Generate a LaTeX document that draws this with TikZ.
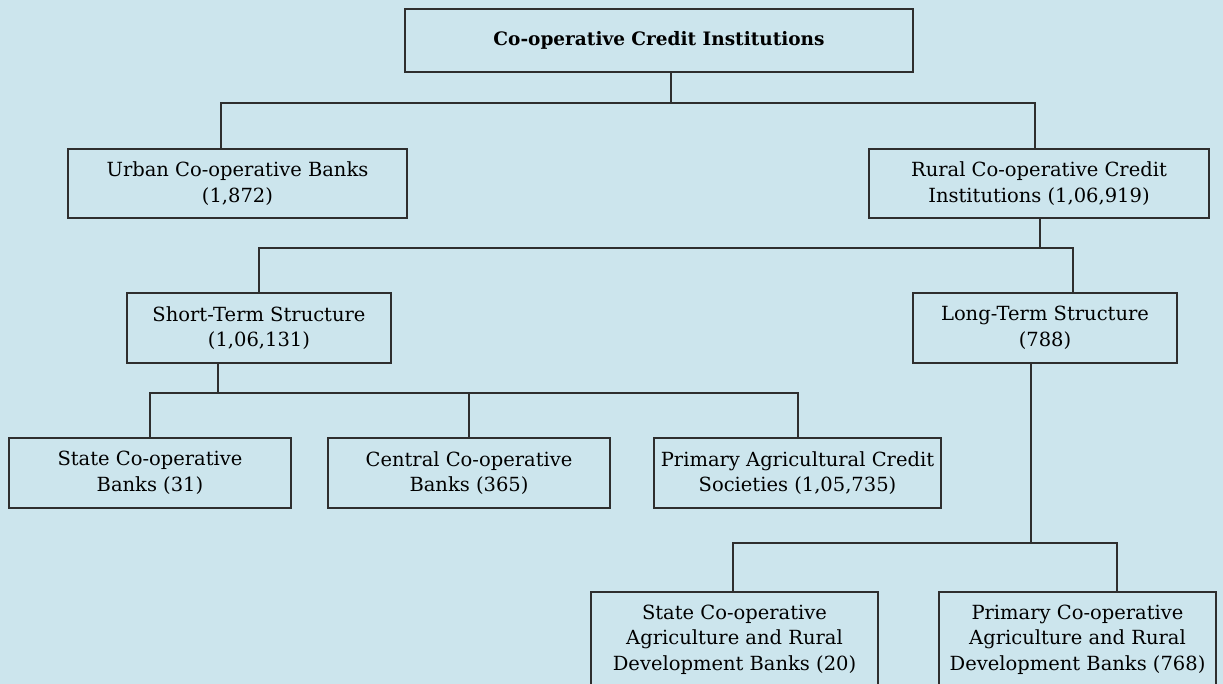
\documentclass[tikz,border=0pt]{standalone}
\usepackage{fontspec}
\setmainfont{DejaVu Serif}
\definecolor{bg}{HTML}{CCE5ED}
\definecolor{ln}{HTML}{2E2E2E}
\begin{document}
\begin{tikzpicture}[x=1pt,y=-1pt,
  box/.style={draw=ln, line width=1.4pt, rectangle, inner sep=0pt, align=center,
    font=\fontsize{19.5}{25.5}\selectfont, text=black},
  conn/.style={draw=ln, line width=1.3pt}]
\useasboundingbox[fill=bg] (0,0) rectangle (1223,684);

\node[box, minimum width=508pt, minimum height=63pt, font=\fontsize{18.5}{24}\selectfont\bfseries] (top) at (659,40.5) {Co-operative Credit Institutions};

\node[box, minimum width=339pt, minimum height=69pt] (urban) at (237.5,183.5) {Urban Co-operative Banks\\(1,872)};
\node[box, minimum width=340pt, minimum height=69pt] (rural) at (1039,183.5) {Rural Co-operative Credit\\Institutions (1,06,919)};

\node[box, minimum width=264pt, minimum height=70pt] (short) at (259,328) {Short-Term Structure\\(1,06,131)};
\node[box, minimum width=264pt, minimum height=70pt] (long) at (1045,328) {Long-Term Structure\\(788)};

\node[box, minimum width=282pt, minimum height=70pt] (state) at (150,473) {State Co-operative\\Banks (31)};
\node[box, minimum width=282pt, minimum height=70pt] (central) at (469,473) {Central Co-operative\\Banks (365)};
\node[box, minimum width=287pt, minimum height=70pt] (pacs) at (797.5,473) {Primary Agricultural Credit\\Societies (1,05,735)};

\node[box, minimum width=287pt, minimum height=95pt] (scard) at (734.5,639.5) {State Co-operative\\Agriculture and Rural\\Development Banks (20)};
\node[box, minimum width=277pt, minimum height=95pt] (pcard) at (1077.5,639.5) {Primary Co-operative\\Agriculture and Rural\\Development Banks (768)};

% junction coordinates
\coordinate (j0) at (671,103);
\coordinate (b1l) at (221,103);
\coordinate (b1r) at (1035,103);
\coordinate (j1) at (1040,248);
\coordinate (b2l) at (259,248);
\coordinate (b2r) at (1073,248);
\coordinate (j2) at (218,393);
\coordinate (b3l) at (150,393);
\coordinate (b3m) at (469,393);
\coordinate (b3r) at (798,393);
\coordinate (j3) at (1031,543);
\coordinate (b4l) at (733,543);
\coordinate (b4r) at (1117,543);

\draw[conn] (top.south -| j0) -- (j0);
\draw[conn] (urban.north -| b1l) -- (b1l) -- (b1r) -- (rural.north -| b1r);
\draw[conn] (rural.south -| j1) -- (j1);
\draw[conn] (short.north -| b2l) -- (b2l) -- (b2r) -- (long.north -| b2r);
\draw[conn] (short.south -| j2) -- (j2);
\draw[conn] (state.north -| b3l) -- (b3l) -- (b3r) -- (pacs.north -| b3r);
\draw[conn] (b3m) -- (central.north -| b3m);
\draw[conn] (long.south -| j3) -- (j3);
\draw[conn] (scard.north -| b4l) -- (b4l) -- (b4r) -- (pcard.north -| b4r);
\end{tikzpicture}
\end{document}
